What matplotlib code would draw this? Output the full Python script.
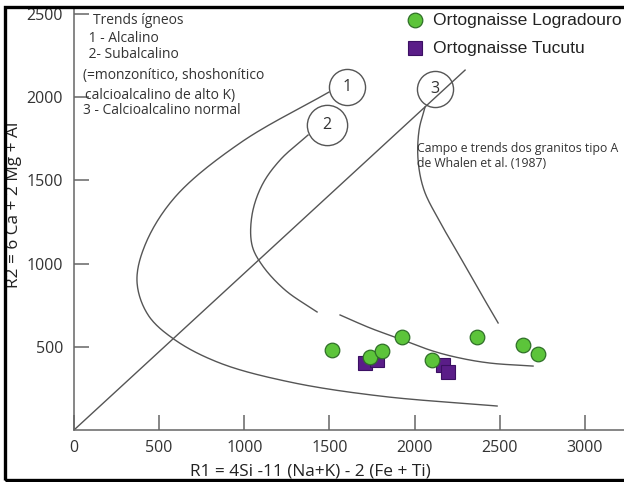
import numpy as np
import matplotlib
matplotlib.use("Agg")
import matplotlib.pyplot as plt
from matplotlib.patches import Rectangle

# --- sample data (R1, R2) ---
logradouro_r1 = [1515, 1738, 1809, 1926, 2102, 2366, 2637, 2725]
logradouro_r2 = [480, 438, 474, 559, 420, 559, 511, 456]
tucutu_r1 = [1709, 1779, 2167, 2196]
tucutu_r2 = [402, 420, 390, 348]

# --- trend curves (Whalen et al. 1987) ---
trend1_r1 = [1497, 975, 593, 417, 370, 435, 593, 857, 1268, 1797, 2484]
trend1_r2 = [2030, 1724, 1399, 1111, 889, 691, 541, 402, 288, 204, 144]
trend2a_r1 = [1374, 1210, 1104, 1045, 1045, 1104, 1239, 1427]
trend2a_r2 = [1772, 1622, 1471, 1291, 1111, 991, 841, 709]
trend2b_r1 = [1562, 1738, 1914, 2108, 2267, 2443, 2695]
trend2b_r2 = [691, 613, 547, 474, 432, 402, 384]
trend3_r1 = [2061, 2026, 2020, 2055, 2149, 2267, 2384, 2490]
trend3_r2 = [1940, 1802, 1622, 1441, 1249, 1039, 829, 643]
diag_r1 = [0, 2296]
diag_r2 = [0, 2162]

# circled trend numbers
trend_ids = ["1", "2", "3"]
trend_id_r1 = [1603, 1486, 2120]
trend_id_r2 = [2060, 1832, 2048]

x_ticks = [0, 500, 1000, 1500, 2000, 2500, 3000]
y_ticks = [500, 1000, 1500, 2000, 2500]

legend_labels = ["Ortognaisse Logradouro", "Ortognaisse Tucutu"]
trend_text = ["Trends ígneos", " 1 - Alcalino", " 2- Subalcalino",
              "(=monzonítico, shoshonítico", "calcioalcalino de alto K)",
              "3 - Calcioalcalino normal"]
field_text = "Campo e trends dos granitos tipo A\nde Whalen et al. (1987)"

XMAX, YMAX = 3229, 2535
W, H = 624, 482
AX_L, AX_B, AX_T = 74, 430, 8
SX = (W - AX_L) / XMAX
SY = (AX_B - AX_T) / YMAX


def smooth(xs, ys, n=24, alpha=0.5):
    """Centripetal Catmull-Rom curve through the nodes (computed in screen units)."""
    p = np.column_stack([np.asarray(xs, float) * SX, np.asarray(ys, float) * SY])
    p = np.vstack([2 * p[0] - p[1], p, 2 * p[-1] - p[-2]])
    out = []
    for i in range(1, len(p) - 2):
        P0, P1, P2, P3 = p[i - 1], p[i], p[i + 1], p[i + 2]
        t0 = 0.0
        t1 = t0 + np.linalg.norm(P1 - P0) ** alpha
        t2 = t1 + np.linalg.norm(P2 - P1) ** alpha
        t3 = t2 + np.linalg.norm(P3 - P2) ** alpha
        t = np.linspace(t1, t2, n, endpoint=False)[:, None]
        A1 = (t1 - t) / (t1 - t0) * P0 + (t - t0) / (t1 - t0) * P1
        A2 = (t2 - t) / (t2 - t1) * P1 + (t - t1) / (t2 - t1) * P2
        A3 = (t3 - t) / (t3 - t2) * P2 + (t - t2) / (t3 - t2) * P3
        B1 = (t2 - t) / (t2 - t0) * A1 + (t - t0) / (t2 - t0) * A2
        B2 = (t3 - t) / (t3 - t1) * A2 + (t - t1) / (t3 - t1) * A3
        out.append((t2 - t) / (t2 - t1) * B1 + (t - t1) / (t2 - t1) * B2)
    out.append(p[-2][None, :])
    out = np.vstack(out)
    return out[:, 0] / SX, out[:, 1] / SY


plt.rcParams['font.family'] = ['Open Sans', 'DejaVu Sans']

fig = plt.figure(figsize=(6.24, 4.82), dpi=100)
ax = fig.add_axes([AX_L / W, (H - AX_B) / H, (W - AX_L) / W, (AX_B - AX_T) / H])
ax.set_xlim(0, XMAX)
ax.set_ylim(0, YMAX)

line_c = "#555555"
for xs, ys in [(trend1_r1, trend1_r2), (trend2a_r1, trend2a_r2),
               (trend2b_r1, trend2b_r2), (trend3_r1, trend3_r2)]:
    sx, sy = smooth(xs, ys)
    ax.plot(sx, sy, color=line_c, lw=1.0, zorder=2)
ax.plot(diag_r1, diag_r2, color=line_c, lw=1.0, zorder=2)

sizes = [26, 29, 26]
for lab, x, y, s in zip(trend_ids, trend_id_r1, trend_id_r2, sizes):
    ax.plot([x], [y], marker="o", ms=s, mfc="none", mec=line_c, mew=1.0, zorder=3)
    ax.text(x, y, lab, ha="center", va="center", fontsize=11.5, color="#333333", zorder=4)

ax.plot(tucutu_r1, tucutu_r2, ls="none", marker="s", ms=10, mfc="#5a1d88",
        mec="#3b0f63", mew=0.8, zorder=5)
ax.plot(logradouro_r1, logradouro_r2, ls="none", marker="o", ms=10.5, mfc="#5cc43a",
        mec="#2f6f28", mew=0.9, zorder=6)

# spines / ticks
for s in ["top", "right"]:
    ax.spines[s].set_visible(False)
for s in ["left", "bottom"]:
    ax.spines[s].set_color("#666666")
    ax.spines[s].set_linewidth(1.1)
ax.set_xticks(x_ticks)
ax.set_yticks(y_ticks)
ax.tick_params(direction="in", length=11, width=1.1, color="#666666",
               labelsize=11.5, labelcolor="#333333")
ax.tick_params(axis="x", pad=7)
ax.tick_params(axis="y", pad=8)

# axis titles
fig.text(310 / W, 1 - 472 / H, "R1 = 4Si -11 (Na+K) - 2 (Fe + Ti)", fontsize=12.4,
         color="#222222", ha="center", va="center")
fig.text(14 / W, 1 - 205 / H, "R2 = 6 Ca + 2 Mg + Al", fontsize=12.4, rotation=90,
         color="#222222", ha="center", va="center")

# text annotations (figure pixel placement)
line_y = [20, 38, 55, 75, 95, 110]
line_x = [93, 85, 85, 83, 85, 83]
for t, x, y in zip(trend_text, line_x, line_y):
    fig.text(x / W, 1 - y / H, t, fontsize=10, va="center", ha="left", color="#333333")

fig.text(417 / W, 1 - 156 / H, field_text, fontsize=8.8, va="center", ha="left",
         color="#333333", linespacing=1.25)

# legend
fig.lines.append(plt.Line2D([415 / W], [1 - 20 / H], marker="o", ms=10.5, mfc="#5cc43a",
                            mec="#2f6f28", mew=0.9, transform=fig.transFigure))
fig.lines.append(plt.Line2D([415 / W], [1 - 48 / H], marker="s", ms=10, mfc="#5a1d88",
                            mec="#3b0f63", mew=0.8, transform=fig.transFigure))
for lab, y in zip(legend_labels, [20, 48]):
    fig.text(433 / W, 1 - y / H, lab, fontsize=12.6, family="Liberation Sans",
             va="center", ha="left", color="#222222")

# outer frame
fig.patches.append(Rectangle((5 / W, 2 / H), 1.2, (H - 8.5) / H, transform=fig.transFigure,
                             fill=False, ec="black", lw=2.4, zorder=10))

fig.savefig("out.png", dpi=100)
